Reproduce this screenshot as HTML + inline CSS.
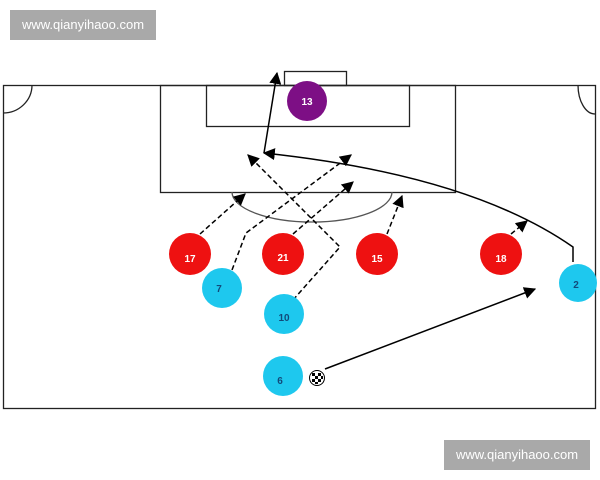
<!DOCTYPE html>
<html><head><style>
body{margin:0;width:600px;height:480px;background:#fff;overflow:hidden;font-family:"Liberation Sans",sans-serif}
.wm{position:absolute;background:#a9a9a9;color:#fff;font-size:13px;line-height:30px;text-align:center;width:146px;height:30px}
</style></head><body>
<div class="wm" style="left:10px;top:10px">www.qianyihaoo.com</div>
<div class="wm" style="left:444px;top:440px">www.qianyihaoo.com</div>
<svg width="600" height="480" style="position:absolute;left:0;top:0">
<defs><marker id="a" viewBox="0 0 10 10" refX="9" refY="5" markerWidth="8" markerHeight="8" orient="auto"><path d="M0,0L10,5L0,10z" fill="#000"/></marker></defs>
<g fill="none" stroke="#222" stroke-width="1.3">
<rect x="3.5" y="85.5" width="592" height="323"/>
<rect x="284.5" y="71.5" width="62" height="14"/>
<rect x="160.5" y="85.5" width="295" height="107"/>
<rect x="206.5" y="85.5" width="203" height="41"/>
<path d="M232,192 A80,30 0 0 0 392,192" stroke="#555"/>
<path d="M32,85 A29,28 0 0 1 3,113"/>
<path d="M578,85 A17,29 0 0 0 595,114"/>
</g>
<g fill="none" stroke="#000" stroke-width="1.5" stroke-dasharray="5,3" marker-end="url(#a)">
<path d="M200,234L245,194"/>
<path d="M232,270L246,233L351,155"/>
<path d="M293,234L353,182"/>
<path d="M293,300L340,247L248,155"/>
<path d="M387,234L402,196"/>
<path d="M511,234L527,221"/>
</g>
<g fill="none" stroke="#000" stroke-width="1.5" marker-end="url(#a)">
<path d="M573,262L573,247Q470,175 264,153"/>
<path d="M264,153L277,73"/>
<path d="M325,369L535,289"/>
</g>
<g font-family="Liberation Sans,sans-serif" font-size="10" font-weight="bold" text-anchor="middle">
<circle cx="307" cy="101" r="20" fill="#7d0f85"/><text x="307" y="105" fill="#fff">13</text>
<g fill="#ee1111"><circle cx="190" cy="254" r="21"/><circle cx="283" cy="254" r="21"/><circle cx="377" cy="254" r="21"/><circle cx="501" cy="254" r="21"/></g>
<g fill="#fff"><text x="190" y="262">17</text><text x="283" y="261">21</text><text x="377" y="262">15</text><text x="501" y="262">18</text></g>
<g fill="#1ec8ee"><circle cx="222" cy="288" r="20"/><circle cx="284" cy="314" r="20"/><circle cx="283" cy="376" r="20"/><circle cx="578" cy="283" r="19"/></g>
<g fill="#124a7a"><text x="219" y="292">7</text><text x="284" y="321">10</text><text x="280" y="384">6</text><text x="576" y="288">2</text></g>
</g>
<circle cx="317" cy="378" r="7.5" fill="#fff" stroke="#000"/>
<g fill="#000"><rect x="312" y="373" width="3" height="3"/><rect x="318" y="373" width="3" height="3"/><rect x="315" y="376" width="3" height="3"/><rect x="321" y="376" width="2" height="3"/><rect x="312" y="379" width="3" height="3"/><rect x="318" y="379" width="3" height="3"/><rect x="315" y="382" width="3" height="2"/></g>
</svg>
</body></html>
